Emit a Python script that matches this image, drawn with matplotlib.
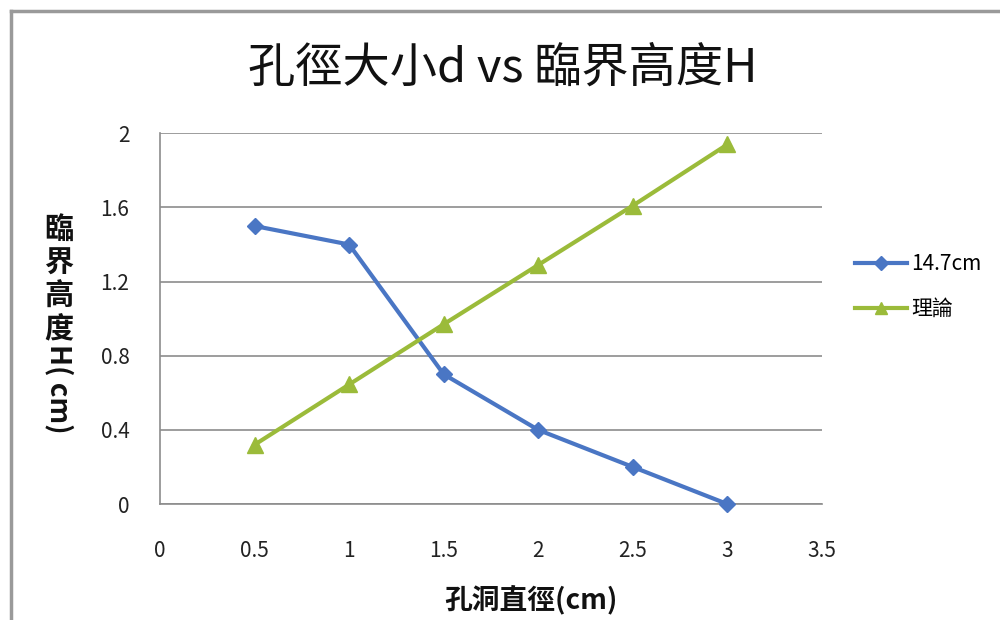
import matplotlib
matplotlib.use("Agg")
import matplotlib.pyplot as plt
from matplotlib.lines import Line2D

plt.rcParams['font.family'] = ['Noto Sans CJK TC', 'DejaVu Sans']

# Hole diameter (cm)
diameters = [0.5, 1.0, 1.5, 2.0, 2.5, 3.0]
# Measured critical height at 14.7 cm water depth
measured = [1.5, 1.4, 0.7, 0.4, 0.2, 0.0]
# Theoretical critical height
theory = [0.32, 0.645, 0.97, 1.29, 1.61, 1.94]

series_labels = ["14.7cm", "理論"]
x_ticks = [0, 0.5, 1, 1.5, 2, 2.5, 3, 3.5]
x_tick_labels = ["0", "0.5", "1", "1.5", "2", "2.5", "3", "3.5"]
y_ticks = [0, 0.4, 0.8, 1.2, 1.6, 2.0]
y_tick_labels = ["0", "0.4", "0.8", "1.2", "1.6", "2"]

title = "孔徑大小d vs 臨界高度H"
x_title = "孔洞直徑(cm)"
y_title_cjk = "臨界高度"
y_title_unit = "H( cm)"

blue = "#4A76C4"
green = "#9BBB3A"
grid_gray = "#8C8C8C"

W, H = 1000, 620
fig = plt.figure(figsize=(10, 6.2), dpi=100)
ax = fig.add_axes([0.160, 0.187, 0.662, 0.598])

ax.plot(diameters, measured, color=blue, lw=3, marker="D", ms=8,
        mfc=blue, mec=blue, clip_on=False, zorder=3)
ax.plot(diameters, theory, color=green, lw=3, marker="^", ms=11,
        mfc=green, mec=green, clip_on=False, zorder=3)

ax.set_xlim(0, 3.5)
ax.set_ylim(0, 2)
ax.set_xticks(x_ticks)
ax.set_xticklabels(x_tick_labels)
ax.set_yticks(y_ticks)
ax.set_yticklabels(y_tick_labels)
ax.tick_params(axis="both", length=0, labelsize=15, colors="#222222")
ax.tick_params(axis="x", pad=26)
ax.tick_params(axis="y", pad=22)

ax.yaxis.grid(True, color=grid_gray, lw=1.2)
ax.set_axisbelow(True)
for side in ("top", "right"):
    ax.spines[side].set_visible(False)
for side in ("left", "bottom"):
    ax.spines[side].set_color(grid_gray)
    ax.spines[side].set_linewidth(1.2)

fig.text(0.503, 0.890, title, ha="center", va="center", fontsize=34,
         fontweight="medium", color="#111111")
fig.text(0.531, 0.033, x_title, ha="center", va="center", fontsize=20,
         fontweight="bold", color="#111111")

# Vertical axis title: CJK characters upright, latin part turned sideways
for i, ch in enumerate(y_title_cjk):
    y_px = 229 + i * 33.5
    fig.text(0.059, 1 - y_px / H, ch, ha="center", va="center",
             fontsize=21, fontweight="bold", color="#111111")
fig.text(0.059, 1 - 389 / H, y_title_unit, ha="center", va="center",
         rotation=-90, fontsize=20, fontweight="bold", color="#111111")

handles = [
    Line2D([], [], color=blue, lw=3, marker="D", ms=7, mfc=blue, mec=blue),
    Line2D([], [], color=green, lw=3, marker="^", ms=9, mfc=green, mec=green),
]
fig.legend(handles, series_labels, loc="center left",
           bbox_to_anchor=(0.847, 0.538), frameon=False, fontsize=15,
           handlelength=2.5, handletextpad=0.2, labelspacing=1.1,
           borderaxespad=0)

# Outer frame edges
fig.add_artist(Line2D([0.011, 0.011], [0.0, 0.982], transform=fig.transFigure,
                      color="#9A9A9A", lw=2.5))
fig.add_artist(Line2D([0.011, 1.0], [0.982, 0.982], transform=fig.transFigure,
                      color="#9A9A9A", lw=2.5))

fig.savefig("out.png", dpi=100, facecolor="white")
